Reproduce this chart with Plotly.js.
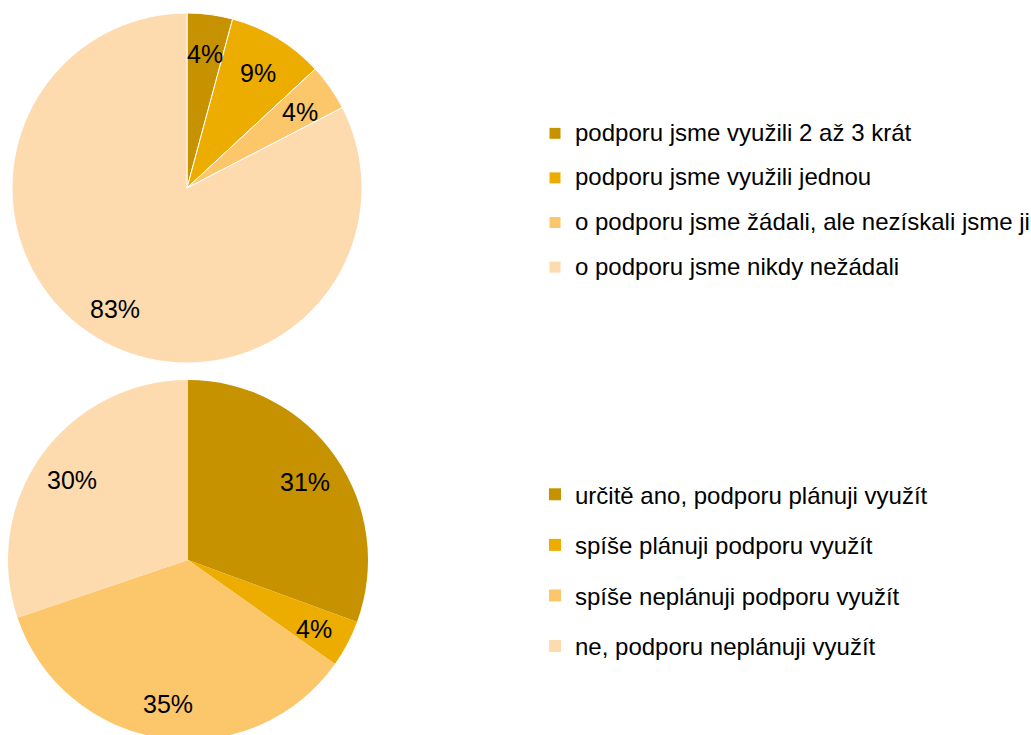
<!DOCTYPE html>
<html>
<head>
<meta charset="utf-8">
<script src="https://cdn.plot.ly/plotly-3.0.1.min.js"></script>
<style>
html,body{margin:0;padding:0;background:#fff;overflow:hidden;width:1031px;height:735px;}
#wrap{position:relative;width:1031px;height:735px;overflow:hidden;}
#chart{position:absolute;left:0;top:0;width:1031px;height:745px;}
</style>
</head>
<body>
<div id="wrap"><div id="chart"></div></div>
<script>
// ---- data ----
var topLabels = [
  'podporu jsme využili 2 až 3 krát',
  'podporu jsme využili jednou',
  'o podporu jsme žádali, ale nezískali jsme ji',
  'o podporu jsme nikdy nežádali'
];
var topValues = [4.2, 8.9, 4.3, 82.6];

var bottomLabels = [
  'určitě ano, podporu plánuji využít',
  'spíše plánuji podporu využít',
  'spíše neplánuji podporu využít',
  'ne, podporu neplánuji využít'
];
var bottomValues = [30.6, 4.2, 35.0, 30.2];

var sliceColors = ['#C79200', '#ECAC00', '#FCC66B', '#FDDBAE'];

// ---- layout constants ----
var W = 1031, H = 745;
var FONT = 'Liberation Sans, Arial, sans-serif';
var topDomain = {x: [12 / W, 362 / W], y: [1 - 363 / H, 1 - 13 / H]};
var bottomDomain = {x: [8 / W, 368 / W], y: [1 - 740 / H, 1 - 380 / H]};
var LABEL_R = 0.79;

function wrapLabel(s) {
  return '<span style="font-size:24px;baseline-shift:5px">' + s + '</span>';
}

function pieAnnotations(values, domain) {
  var x0 = domain.x[0] * W, x1 = domain.x[1] * W;
  var y0 = (1 - domain.y[1]) * H, y1 = (1 - domain.y[0]) * H;
  var cx = (x0 + x1) / 2, cy = (y0 + y1) / 2;
  var R = Math.min(x1 - x0, y1 - y0) / 2;
  var total = values.reduce(function (a, b) { return a + b; }, 0);
  var cum = 0, out = [];
  values.forEach(function (v) {
    var mid = (cum + v / 2) / total * 2 * Math.PI;
    cum += v;
    var px = cx + LABEL_R * R * Math.sin(mid);
    var py = cy - LABEL_R * R * Math.cos(mid);
    out.push({
      xref: 'paper', yref: 'paper',
      x: px / W, y: 1 - py / H,
      xanchor: 'center', yanchor: 'middle',
      yshift: -3,
      text: Math.round(v / total * 100) + '%',
      showarrow: false,
      font: {family: FONT, size: 25, color: '#000'}
    });
  });
  return out;
}

var traces = [
  {
    type: 'pie',
    labels: topLabels.map(wrapLabel),
    values: topValues,
    sort: false,
    direction: 'clockwise',
    rotation: 0,
    textinfo: 'none',
    hoverinfo: 'skip',
    marker: {colors: sliceColors, line: {color: '#ffffff', width: 1}},
    domain: topDomain,
    legend: 'legend'
  },
  {
    type: 'pie',
    labels: bottomLabels.map(wrapLabel),
    values: bottomValues,
    sort: false,
    direction: 'clockwise',
    rotation: 0,
    textinfo: 'none',
    hoverinfo: 'skip',
    marker: {colors: sliceColors, line: {color: '#ffffff', width: 0}},
    domain: bottomDomain,
    legend: 'legend2'
  }
];

var layout = {
  width: W, height: H,
  margin: {l: 0, r: 0, t: 0, b: 0, autoexpand: false},
  paper_bgcolor: '#ffffff',
  font: {family: FONT, color: '#000'},
  showlegend: true,
  legend: {
    x: 535 / W, y: 1 - 106 / H, xanchor: 'left', yanchor: 'top',
    font: {family: FONT, size: 32, color: '#000'},
    bgcolor: 'rgba(0,0,0,0)', traceorder: 'normal'
  },
  legend2: {
    x: 535 / W, y: 1 - 464 / H, xanchor: 'left', yanchor: 'top',
    font: {family: FONT, size: 36.6, color: '#000'},
    bgcolor: 'rgba(0,0,0,0)', traceorder: 'normal'
  },
  annotations: pieAnnotations(topValues, topDomain).concat(pieAnnotations(bottomValues, bottomDomain))
};

Plotly.newPlot('chart', traces, layout, {staticPlot: true, displayModeBar: false});
</script>
</body>
</html>
